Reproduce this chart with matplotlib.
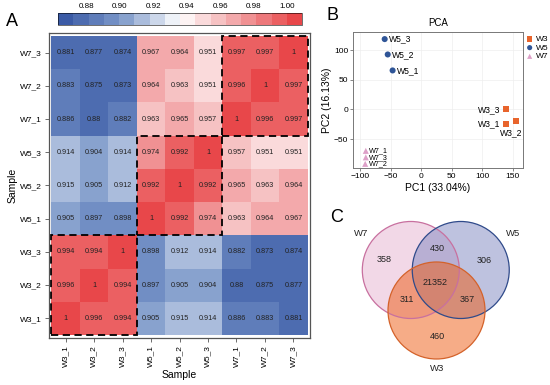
import numpy as np
import matplotlib
matplotlib.use("Agg")
import matplotlib.pyplot as plt
from matplotlib.colors import LinearSegmentedColormap
from matplotlib.patches import Rectangle, Circle

plt.rcParams['font.family'] = ['Liberation Sans', 'DejaVu Sans']

# ---- data ----
samples = ['W3_1', 'W3_2', 'W3_3', 'W5_1', 'W5_2', 'W5_3', 'W7_1', 'W7_2', 'W7_3']
corr = [
    [1, 0.996, 0.994, 0.905, 0.915, 0.914, 0.886, 0.883, 0.881],
    [0.996, 1, 0.994, 0.897, 0.905, 0.904, 0.88, 0.875, 0.877],
    [0.994, 0.994, 1, 0.898, 0.912, 0.914, 0.882, 0.873, 0.874],
    [0.905, 0.897, 0.898, 1, 0.992, 0.974, 0.963, 0.964, 0.967],
    [0.915, 0.905, 0.912, 0.992, 1, 0.992, 0.965, 0.963, 0.964],
    [0.914, 0.904, 0.914, 0.974, 0.992, 1, 0.957, 0.951, 0.951],
    [0.886, 0.88, 0.882, 0.963, 0.965, 0.957, 1, 0.996, 0.997],
    [0.883, 0.875, 0.873, 0.964, 0.963, 0.951, 0.996, 1, 0.997],
    [0.881, 0.877, 0.874, 0.967, 0.964, 0.951, 0.997, 0.997, 1],
]
cbar_ticks = [0.88, 0.90, 0.92, 0.94, 0.96, 0.98, 1.00]

groups = ['W3', 'W5', 'W7']
pca_x = {'W3': [139, 155, 139], 'W5': [-47, -55, -60], 'W7': [-91, -92, -91]}
pca_y = {'W3': [-24, -20, 0], 'W5': [66, 93, 119], 'W7': [-70, -92, -81]}
pc1_var = 33.04
pc2_var = 16.13

venn_names = ['W7', 'W5', 'W3']
venn_counts = {'W7': 358, 'W5': 306, 'W3': 460, 'W7W5': 430, 'W7W3': 311,
               'W5W3': 367, 'all': 21352}

# ---- figure ----
fig = plt.figure(figsize=(5.5, 3.85), dpi=100)

cmap = LinearSegmentedColormap.from_list(
    'bwr2', ['#3B5BA6', '#7F9BCB', '#FFFFFF', '#F2A3A5', '#E8474A'], N=16)
vmin, vmax = 0.863, 1.009

# A: correlation heatmap
ax = fig.add_axes([49 / 550, 47 / 385, 261 / 550, 305 / 385])
M = np.array(corr)
mesh = ax.pcolormesh(np.arange(10), np.arange(10), M, cmap=cmap,
                     vmin=vmin, vmax=vmax)
for i in range(9):
    for j in range(9):
        v = M[i, j]
        s = '1' if v == 1 else f'{v:g}'
        ax.text(j + 0.5, i + 0.5, s, ha='center', va='center',
                fontsize=5.2, color='#222222')
for k in range(3):
    ax.add_patch(Rectangle((3 * k, 3 * k), 3, 3, fill=False, ec='black',
                           lw=1.3, ls=(0, (4, 2.5))))
ax.set_xlim(-0.08, 9.08)
ax.set_ylim(-0.09, 9.09)
ax.set_xticks(np.arange(9) + 0.5)
ax.set_xticklabels(samples, rotation=90, fontsize=6)
ax.set_yticks(np.arange(9) + 0.5)
ax.set_yticklabels(samples, fontsize=6)
ax.tick_params(length=3, width=0.6, color='#555555', pad=2)
for sp in ax.spines.values():
    sp.set_color('#555555')
    sp.set_linewidth(0.9)
ax.set_xlabel('Sample', fontsize=7.5, labelpad=2)
ax.set_ylabel('Sample', fontsize=7.5, labelpad=2)

cax = fig.add_axes([58 / 550, 360 / 385, 244 / 550, 12 / 385])
cb = fig.colorbar(mesh, cax=cax, orientation='horizontal', ticks=cbar_ticks)
cb.outline.set_linewidth(0.4)
cax.xaxis.set_ticks_position('top')
cax.tick_params(length=0, labelsize=5.8, pad=2)
cax.set_xticklabels([f'{t:.2f}' for t in cbar_ticks])

fig.text(12 / 550, 1 - 21 / 385, 'A', fontsize=13, ha='center', va='center')

# B: PCA
axb = fig.add_axes([353 / 550, 217 / 385, 170 / 550, 136 / 385])
styles = {'W3': ('s', '#E8642C'), 'W5': ('o', '#2F5597'), 'W7': ('^', '#DDA0C8')}
for g in groups:
    m, c = styles[g]
    axb.scatter(pca_x[g], pca_y[g], marker=m, color=c, s=19, label=g,
                edgecolors='none', zorder=3)
    for n, (x, y) in enumerate(zip(pca_x[g], pca_y[g])):
        name = f'{g}_{n + 1}'
        if g == 'W3' and n == 1:
            axb.annotate(name, (x, y), xytext=(-3, -8), textcoords='offset points',
                         fontsize=6.2, ha='center', va='center')
        elif g == 'W3':
            axb.annotate(name, (x, y), xytext=(-4, 0), textcoords='offset points',
                         fontsize=6.2, ha='right', va='center')
        elif g == 'W7':
            # points sit close together, keep labels compact
            axb.annotate(name, (x, y), xytext=(2.5, 0), textcoords='offset points',
                         fontsize=5.2, ha='left', va='center')
        else:
            axb.annotate(name, (x, y), xytext=(3, 0), textcoords='offset points',
                         fontsize=6.2, ha='left', va='center')
axb.set_xlim(-112, 167)
axb.set_ylim(-99, 131)
axb.set_xticks([-100, -50, 0, 50, 100, 150])
axb.set_yticks([-50, 0, 50, 100])
axb.grid(True, color='#eeeeee', lw=0.5)
axb.set_axisbelow(True)
axb.tick_params(labelsize=6, length=2, width=0.5, color='#555555', pad=1.5)
for sp in axb.spines.values():
    sp.set_color('#777777')
    sp.set_linewidth(0.7)
axb.set_title('PCA', fontsize=7, pad=4)
axb.set_xlabel(f'PC1 ({pc1_var:.2f}%)', fontsize=7.5, labelpad=2)
axb.set_ylabel(f'PC2 ({pc2_var:.2f}%)', fontsize=7.5, labelpad=1)
axb.legend(loc='upper left', bbox_to_anchor=(1.0, 1.0), frameon=False,
           fontsize=6, handlelength=0.8, handletextpad=0.3, labelspacing=0.1,
           borderaxespad=0.2, borderpad=0.2, markerscale=0.85)
fig.text(333 / 550, 1 - 15 / 385, 'B', fontsize=13, ha='center', va='center')

# C: Venn
axc = fig.add_axes([330 / 550, 5 / 385, 215 / 550, 185 / 385])
axc.set_xlim(-2.196, 2.237)
axc.set_ylim(-1.433, 2.381)
axc.axis('off')
centers = {'W7': (-0.53, 0.835), 'W5': (0.5, 0.835), 'W3': (0.0, 0.0)}
fills = {'W7': '#E6B3D0', 'W5': '#7F87C0', 'W3': '#EE5A10'}
edges = {'W7': '#C8709F', 'W5': '#2F4A8A', 'W3': '#D4622A'}
for g in venn_names:
    axc.add_patch(Circle(centers[g], 1.0, fc=fills[g], alpha=0.5, ec='none'))
for g in venn_names:
    axc.add_patch(Circle(centers[g], 1.0, fc='none', ec=edges[g], lw=0.9))
name_pos = {'W7': (-1.56, 1.58), 'W5': (1.58, 1.58), 'W3': (0.01, -1.19)}
for g in venn_names:
    axc.text(*name_pos[g], g, fontsize=6.8, ha='center', va='center', color='#222222')
count_pos = {'W7': (-1.08, 1.06), 'W5': (0.98, 1.04), 'W3': (0.01, -0.53),
             'W7W5': (0.01, 1.27), 'W7W3': (-0.61, 0.22), 'W5W3': (0.63, 0.22),
             'all': (-0.03, 0.57)}
for key, pos in count_pos.items():
    axc.text(*pos, str(venn_counts[key]), fontsize=6.5, ha='center',
             va='center', color='#222222')
fig.text(337 / 550, 1 - 218 / 385, 'C', fontsize=13, ha='center', va='center')

fig.savefig('out.png', dpi=100)
